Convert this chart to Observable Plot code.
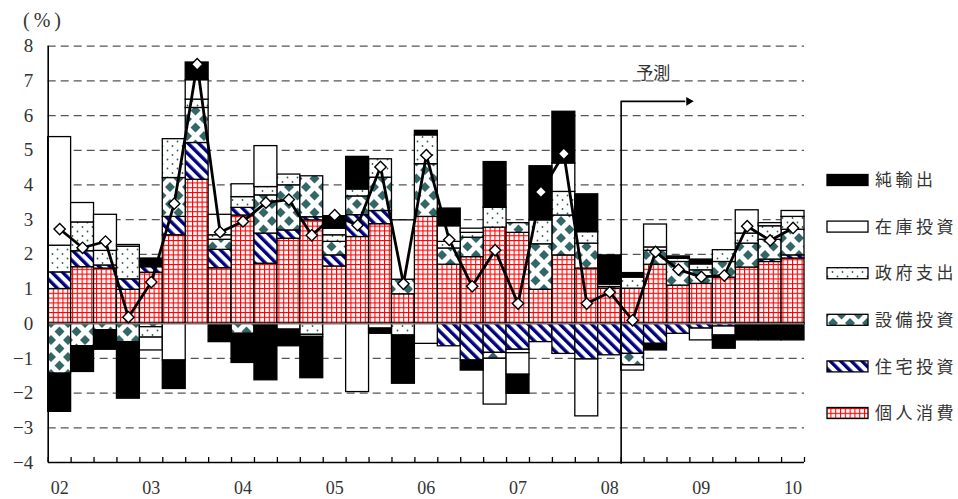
<!DOCTYPE html>
<html><head><meta charset="utf-8">
<script src="https://cdn.jsdelivr.net/npm/d3@7"></script>
<script src="https://cdn.jsdelivr.net/npm/@observablehq/plot@0.6"></script>
<style>
html,body{margin:0;padding:0;background:#fff;}
#chart{width:958px;height:499px;}
</style></head><body><div id="chart"></div>
<script>
// ---- data ----
const quarters = ["02Q1","02Q2","02Q3","02Q4","03Q1","03Q2","03Q3","03Q4","04Q1","04Q2","04Q3","04Q4",
  "05Q1","05Q2","05Q3","05Q4","06Q1","06Q2","06Q3","06Q4","07Q1","07Q2","07Q3","07Q4",
  "08Q1","08Q2","08Q3","08Q4","09Q1","09Q2","09Q3","09Q4","10Q1"];
const yearLabels = ["02","03","04","05","06","07","08","09","10"];
const components = ["個人消費","住宅投資","設備投資","政府支出","在庫投資","純輸出"];
const consumption = [1.00,1.63,1.59,0.98,1.47,2.55,4.15,1.60,3.12,1.73,2.45,2.98,
  1.65,2.50,2.87,0.85,3.08,1.70,1.92,2.77,2.62,0.98,1.97,1.59,
  1.01,1.01,1.70,1.10,1.15,1.33,1.62,1.78,1.88];
const housing = [0.48,0.46,0.09,0.30,0.16,0.53,1.06,0.53,0.22,0.87,0.24,0.09,
  0.32,0.63,0.38,0.00,0.00,-0.65,-1.06,-0.84,-0.75,-0.53,-0.87,-1.03,
  -0.91,-0.87,-0.58,-0.29,-0.14,-0.08,0.00,0.07,0.09];
const capex = [-1.44,-0.65,-0.19,-0.53,-0.10,1.12,1.01,0.29,-0.29,1.10,1.30,1.18,
  0.39,0.54,0.96,0.42,1.52,0.47,0.56,-0.17,0.28,1.31,1.15,0.72,
  0.05,-0.33,0.40,0.68,0.39,0.45,0.69,0.57,0.74];
const government = [0.77,0.83,0.42,0.94,-0.30,1.12,0.24,0.13,0.31,0.24,0.31,-0.32,
  0.19,0.20,0.53,-0.34,0.83,0.19,0.14,0.57,-0.10,0.69,0.68,0.33,
  0.00,0.32,0.10,0.09,0.17,0.34,0.29,0.39,0.37];
const inventory = [3.13,0.56,1.04,0.05,-0.37,-1.06,0.56,0.59,0.37,1.18,-0.17,-0.06,
  0.19,-1.97,-0.14,1.71,-0.58,0.45,0.12,-1.32,-0.62,0.00,0.82,-1.64,
  0.07,-0.15,0.66,0.00,-0.34,-0.26,0.67,0.09,0.17];
const netExports = [-1.10,-0.74,-0.56,-1.63,0.25,-0.82,0.51,-0.53,-0.84,-1.63,-0.48,-1.19,
  0.36,0.94,-0.15,-1.39,0.13,0.51,-0.29,1.32,-0.55,1.56,1.49,1.09,
  0.84,0.13,-0.19,0.07,0.14,-0.38,-0.48,-0.48,-0.48];
const gdpGrowth = [2.73,2.19,2.37,0.19,1.20,3.46,7.48,2.64,2.95,3.49,3.58,2.55,
  3.13,2.84,4.52,1.15,4.86,2.42,1.08,2.12,0.58,3.80,4.90,0.58,
  0.91,0.10,2.07,1.56,1.35,1.39,2.81,2.40,2.76];
const yTicks = [-4,-3,-2,-1,0,1,2,3,4,5,6,7,8];
const forecastStart = "08Q2";
const forecastLabel = "予測";
const unitLabel = "(%)";

// ---- build tables ----
const series = [consumption, housing, capex, government, inventory, netExports];
const fillOf = {"個人消費":"url(#p-cons)","住宅投資":"url(#p-house)","設備投資":"url(#p-capex)","政府支出":"url(#p-gov)","在庫投資":"white","純輸出":"black"};
const rows = [];
components.forEach((c, k) => series[k].forEach((v, i) => rows.push({i, x1: i - 0.5, x2: i + 0.5, comp: c, value: v})));
const gdp = gdpGrowth.map((v, i) => ({i, v}));
const n = quarters.length;
const boundaries = d3.range(n + 1).map(i => i - 0.5);
const yearIdx = quarters.map((q, i) => q.endsWith("Q1") ? i : null).filter(d => d != null);
const fx = quarters.indexOf(forecastStart) - 0.5;

const plot = Plot.plot({
  width: 958, height: 499,
  marginLeft: 47.7, marginRight: 154, marginTop: 45.7, marginBottom: 37,
  x: {domain: [-0.5, n - 0.5], axis: null},
  y: {domain: [-4, 8], axis: null},
  color: {type: "identity"},
  style: {background: "white", fontFamily: "'Liberation Serif', serif", fontSize: "18px", color: "#333"},
  marks: [
    Plot.ruleY(yTicks.filter(d => d > -4 && d !== 0), {stroke: "#555", strokeWidth: 1.2, strokeDasharray: "8,5"}),
    Plot.rectY(rows, {x1: "x1", x2: "x2", y: "value", z: "comp", fill: d => fillOf[d.comp], stroke: "black", strokeWidth: 1.3}),
    Plot.ruleY([0], {stroke: "#777", strokeWidth: 1.6}),
    Plot.ruleY([-4], {stroke: "black", strokeWidth: 1.6}),
    Plot.ruleX([-0.5], {stroke: "black", strokeWidth: 1.6}),
    Plot.axisX(boundaries, {anchor: "bottom", tickSize: 5, dy: -5, tickFormat: () => "", stroke: "black", strokeWidth: 1.3}),
    Plot.axisX(yearIdx, {anchor: "bottom", tickSize: 0, tickPadding: 19, tickFormat: i => yearLabels[yearIdx.indexOf(i)], fill: "#333", fontSize: 18}),
    Plot.axisY(yTicks, {anchor: "left", tickSize: 0, tickPadding: 15, tickFormat: d3.format("d"), fill: "#333", fontSize: 19}),
    Plot.line(gdp, {x: "i", y: "v", stroke: "black", strokeWidth: 2.8}),
    Plot.dot(gdp, {x: "i", y: "v", symbol: "square", rotate: 45, r: 4.5, fill: "white", stroke: "black", strokeWidth: 1.4}),
    Plot.ruleX([fx], {y1: -4.05, y2: 6.41, stroke: "black", strokeWidth: 1.6}),
    Plot.link([{a: fx, b: 27.3}], {x1: "a", x2: "b", y1: 6.41, y2: 6.41, stroke: "black", strokeWidth: 1.8}),
    Plot.dot([{b: 27.45}], {x: "b", y: 6.41, symbol: "triangle", rotate: 90, r: 3.2, fill: "black"}),
    Plot.text([forecastLabel], {x: 25.9, y: 7.2, text: d => d, fontSize: 17, fill: "#333", fontFamily: "'Noto Sans CJK JP', sans-serif"})
  ]
});
document.getElementById("chart").appendChild(plot);

// ---- patterns & legend ----
const svg = d3.select(plot);
const defs = svg.insert("defs", ":first-child");
const G = 4.8;
let p = defs.append("pattern").attr("id", "p-cons").attr("patternUnits", "userSpaceOnUse").attr("width", G).attr("height", G);
p.append("rect").attr("width", G).attr("height", G).attr("fill", "white");
p.append("rect").attr("width", G).attr("height", 1.1).attr("fill", "#ff0000");
p.append("rect").attr("width", 1.1).attr("height", G).attr("fill", "#ff0000");
p = defs.append("pattern").attr("id", "p-house").attr("patternUnits", "userSpaceOnUse").attr("width", 7.5).attr("height", 7.5).attr("patternTransform", "rotate(-45)");
p.append("rect").attr("width", 7.5).attr("height", 7.5).attr("fill", "white");
p.append("rect").attr("width", 3.4).attr("height", 7.5).attr("fill", "#000080");
const S = 17, h = 5;
p = defs.append("pattern").attr("id", "p-capex").attr("patternUnits", "userSpaceOnUse").attr("width", S).attr("height", S);
p.append("rect").attr("width", S).attr("height", S).attr("fill", "white");
const dia = (cx, cy) => `M${cx},${cy - h} L${cx + h},${cy} L${cx},${cy + h} L${cx - h},${cy}Z`;
p.append("path").attr("fill", "#336666").attr("d",
  [dia(S / 2, S / 2), dia(0, 0), dia(S, 0), dia(0, S), dia(S, S)].join(" "));
p = defs.append("pattern").attr("id", "p-gov").attr("patternUnits", "userSpaceOnUse").attr("width", 10).attr("height", 9);
p.append("rect").attr("width", 10).attr("height", 9).attr("fill", "white");
p.append("circle").attr("cx", 2.5).attr("cy", 2).attr("r", 0.9).attr("fill", "#2f5f4f");
p.append("circle").attr("cx", 7.5).attr("cy", 6.5).attr("r", 0.9).attr("fill", "#2f5f4f");

const legendOrder = components.slice().reverse();
const lg = svg.append("g").attr("text-anchor", "start");
legendOrder.forEach((c, k) => {
  const cy = 180 + k * 46.6;
  lg.append("rect").attr("x", 827).attr("y", cy - 5.5).attr("width", 41).attr("height", 11)
    .attr("fill", fillOf[c]).attr("stroke", "black").attr("stroke-width", 1.3);
  lg.append("text").attr("x", 875).attr("y", cy).attr("dy", "0.36em").attr("text-anchor", "start")
    .attr("font-family", "'Noto Sans CJK JP', sans-serif").attr("font-size", 17).attr("letter-spacing", "3.5px")
    .attr("fill", "#333").text(c);
});
svg.append("text").attr("x", 44).attr("y", 20).attr("dy", "0.36em").attr("text-anchor", "middle")
  .attr("font-family", "'Liberation Serif', serif").attr("font-size", 20).attr("letter-spacing", "4px")
  .attr("fill", "#333").text(unitLabel);
</script></body></html>
